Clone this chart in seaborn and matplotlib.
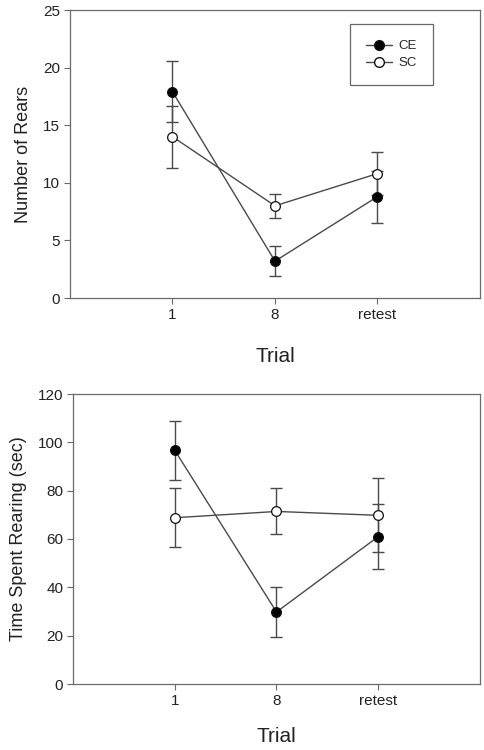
#!/usr/bin/env python3
"""Rearing behaviour across trials: number of rears and time spent rearing (CE vs SC)."""

import numpy as np
import pandas as pd
import matplotlib
matplotlib.use("Agg")
import matplotlib.pyplot as plt
from matplotlib.lines import Line2D
import seaborn as sns

# ---------------------------------------------------------------------------
# Data (mean +/- SEM)
# ---------------------------------------------------------------------------

trials = ["1", "8", "retest"]
groups = ["CE", "SC"]

rears_ce = [17.9, 3.2, 8.8]
rears_ce_err = [2.65, 1.3, 2.25]
rears_sc = [14.0, 8.0, 10.8]
rears_sc_err = [2.7, 1.07, 1.85]

time_ce = [96.7, 29.8, 61.0]
time_ce_err = [12.1, 10.4, 13.5]
time_sc = [68.8, 71.4, 69.8]
time_sc_err = [12.1, 9.5, 15.3]

# ---------------------------------------------------------------------------
# Style
# ---------------------------------------------------------------------------

sns.set_theme(style="white")
plt.rcParams["font.family"] = ["Liberation Sans", "DejaVu Sans"]

LINE_COLOR = "#4a4a4a"
SPINE_COLOR = "#6a6a6a"
MARKER_FACE = {"CE": "#000000", "SC": "#ffffff"}


def build_frame(ce, ce_err, sc, sc_err):
    rows = []
    for g, vals, errs in (("CE", ce, ce_err), ("SC", sc, sc_err)):
        for i, (t, v, e) in enumerate(zip(trials, vals, errs)):
            rows.append({"trial": t, "pos": i, "group": g, "value": v, "err": e})
    return pd.DataFrame(rows)


def draw_panel(ax, df, ymax, ystep, ylabel, xpad, legend=False):
    # error bars first, so the markers sit on top
    for g in groups:
        sub = df[df["group"] == g]
        ax.errorbar(sub["pos"], sub["value"], yerr=sub["err"], fmt="none",
                    ecolor=LINE_COLOR, elinewidth=1.0, capsize=4,
                    capthick=1.0, zorder=2)
    for g in groups:
        sub = df[df["group"] == g]
        sns.lineplot(data=sub, x="pos", y="value", ax=ax, color=LINE_COLOR,
                     linewidth=1.0, marker="o", markersize=7,
                     markerfacecolor=MARKER_FACE[g], markeredgecolor="#111111",
                     markeredgewidth=0.9, legend=False, zorder=3)

    ax.set_xlim(-1, 3)
    ax.set_ylim(0, ymax)
    ax.set_xticks(np.arange(len(trials)))
    ax.set_xticklabels(trials)
    ax.set_yticks(np.arange(0, ymax + 1, ystep))
    ax.tick_params(axis="both", which="major", direction="out", length=4,
                   width=0.8, color=SPINE_COLOR, labelsize=11,
                   labelcolor="#222222", bottom=True, left=True,
                   top=False, right=False, pad=3)
    for sp in ax.spines.values():
        sp.set_color(SPINE_COLOR)
        sp.set_linewidth(0.9)
    ax.set_ylabel(ylabel, fontsize=13, color="#222222", labelpad=8)
    ax.set_xlabel("Trial", fontsize=15, color="#222222", labelpad=xpad)

    if legend:
        handles = [Line2D([0], [0], color=LINE_COLOR, linewidth=1.0,
                          marker="o", markersize=7,
                          markerfacecolor=MARKER_FACE[g],
                          markeredgecolor="#111111", label=g)
                   for g in groups]
        leg = ax.legend(handles=handles, loc="upper right",
                        bbox_to_anchor=(0.885, 0.95), fontsize=9.5,
                        frameon=True, fancybox=False, borderpad=1.2,
                        handlelength=2.0, handletextpad=0.5,
                        labelspacing=0.35, borderaxespad=0.0)
        leg.get_frame().set_edgecolor("#444444")
        leg.get_frame().set_linewidth(0.9)


def main():
    rears = build_frame(rears_ce, rears_ce_err, rears_sc, rears_sc_err)
    times = build_frame(time_ce, time_ce_err, time_sc, time_sc_err)

    fig = plt.figure(figsize=(4.85, 7.5), dpi=100)
    ax1 = fig.add_axes([70 / 485, 1 - 298 / 750, 410 / 485, 288 / 750])
    ax2 = fig.add_axes([73 / 485, 1 - 684 / 750, 407 / 485, 290 / 750])

    draw_panel(ax1, rears, 25, 5, "Number of Rears", xpad=18, legend=True)
    draw_panel(ax2, times, 120, 20, "Time Spent Rearing (sec)", xpad=14)

    fig.savefig("out.png", dpi=100)
    plt.close(fig)


if __name__ == "__main__":
    main()
